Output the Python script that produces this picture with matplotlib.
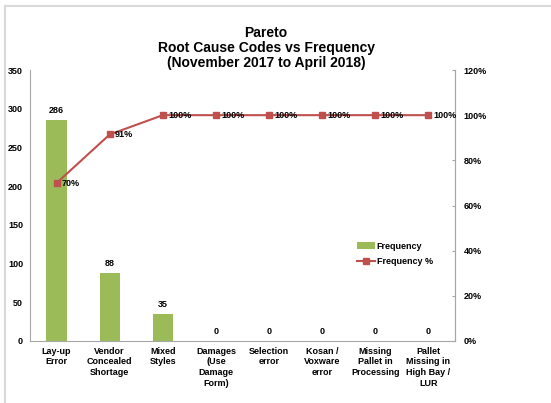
import matplotlib
matplotlib.use('Agg')
import matplotlib.pyplot as plt
from matplotlib.patches import Rectangle

plt.rcParams['font.family'] = ['Liberation Sans', 'DejaVu Sans']

# Root cause categories and their counts
categories = ['Lay-up\nError', 'Vendor\nConcealed\nShortage', 'Mixed\nStyles',
              'Damages\n(Use\nDamage\nForm)', 'Selection\nerror', 'Kosan /\nVoxware\nerror',
              'Missing\nPallet in\nProcessing', 'Pallet\nMissing in\nHigh Bay /\nLUR']
frequency = [286, 88, 35, 0, 0, 0, 0, 0]

# Cumulative share of the total
total = sum(frequency)
cum_pct = []
running = 0
for f in frequency:
    running += f
    cum_pct.append(running / total * 100)

bar_color = '#9BBB59'
line_color = '#C0504D'
axis_gray = '#A6A6A6'

fig = plt.figure(figsize=(5.51, 4.03), dpi=100)
fig.patches.append(Rectangle((5 / 551, -0.1), 1.2, 1 - 6 / 403 + 0.1, transform=fig.transFigure,
                             fill=False, edgecolor='#D9D9D9', linewidth=1.5))

ax1 = fig.add_axes([30 / 551, 1 - 341 / 403, 425 / 551, 271 / 403])
x = list(range(len(categories)))
bars = ax1.bar(x, frequency, width=0.38, color=bar_color, label='Frequency', zorder=2)
ax1.set_ylim(0, 350)
ax1.set_yticks(range(0, 351, 50))
ax1.set_xlim(-0.5, len(categories) - 0.5)
ax1.set_xticks(x)
ax1.set_xticklabels(categories, fontsize=6.5, fontweight='bold', linespacing=1.25)
ax1.tick_params(axis='x', length=0, pad=4)
ax1.tick_params(axis='y', labelsize=6.5, length=0, pad=5)
for lbl in ax1.get_yticklabels():
    lbl.set_fontweight('bold')
ax1.spines['top'].set_visible(False)
for side in ['left', 'bottom', 'right']:
    ax1.spines[side].set_color(axis_gray)

for xi, f in zip(x, frequency):
    ax1.text(xi, f + 6, str(f), ha='center', va='bottom', fontsize=6.5, fontweight='bold')

# Cumulative percentage on the right-hand axis
ax2 = ax1.twinx()
line, = ax2.plot(x, cum_pct, color=line_color, marker='s', markersize=5, linewidth=1.5,
                 label='Frequency %', zorder=3)
ax2.set_ylim(0, 120)
ax2.set_yticks(range(0, 121, 20))
ax2.set_yticklabels([f'{v}%' for v in range(0, 121, 20)])
ax2.tick_params(axis='y', labelsize=6.5, length=2, direction='in', color=axis_gray, pad=6)
for lbl in ax2.get_yticklabels():
    lbl.set_fontweight('bold')
ax2.spines['top'].set_visible(False)
ax2.spines['right'].set_color(axis_gray)
ax2.spines['left'].set_visible(False)
ax2.spines['bottom'].set_visible(False)

for xi, p in zip(x, cum_pct):
    ax2.text(xi + 0.1, p, f'{p:.0f}%', ha='left', va='center', fontsize=6.5, fontweight='bold')

leg = ax2.legend([bars, line], ['Frequency', 'Frequency %'], loc='lower left',
                 bbox_to_anchor=(0.75, 0.245), frameon=False,
                 prop={'weight': 'bold', 'size': 6.5}, handlelength=2.0, handletextpad=0.2,
                 labelspacing=0.75, markerscale=0.8)

fig.text(0.483, 1 - 48 / 403, 'Pareto\nRoot Cause Codes vs Frequency\n(November 2017 to April 2018)',
         ha='center', va='center', fontsize=10, fontweight='bold', linespacing=1.1)

plt.savefig('out.png', dpi=100)
